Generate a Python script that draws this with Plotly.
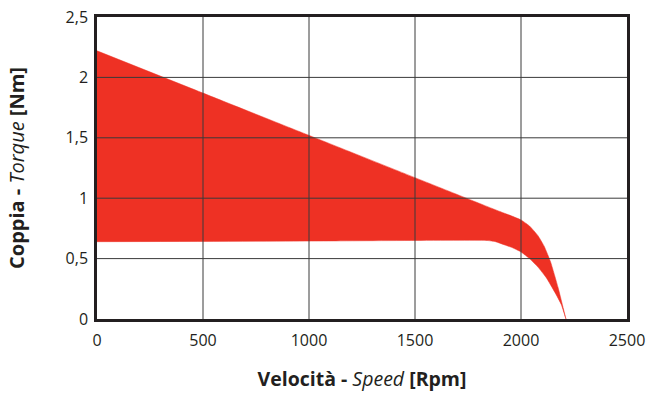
import plotly.graph_objects as go

# Upper boundary of the operating region
upper_speed = [0, 500, 1000, 1500, 1900, 1960, 2000, 2040, 2080, 2110, 2140, 2175, 2212]
upper_torque = [2.22, 1.87, 1.52, 1.17, 0.89, 0.85, 0.82, 0.77, 0.69, 0.60, 0.47, 0.26, 0.0]

# Lower boundary of the operating region
lower_speed = [0, 1000, 1840, 1880, 1920, 1960, 2000, 2040, 2080, 2120, 2160, 2190, 2212]
lower_torque = [0.64, 0.645, 0.65, 0.64, 0.615, 0.59, 0.555, 0.50, 0.43, 0.34, 0.22, 0.12, 0.0]

x_ticks = [0, 500, 1000, 1500, 2000, 2500]
x_labels = ["0", "500", "1000", "1500", "2000", "2500"]
y_ticks = [0, 0.5, 1, 1.5, 2, 2.5]
y_labels = ["0", "0,5", "1", "1,5", "2", "2,5"]

poly_x = upper_speed + lower_speed[::-1]
poly_y = upper_torque + lower_torque[::-1]

fig = go.Figure()
fig.add_trace(go.Scatter(
    x=poly_x, y=poly_y, mode="lines", fill="toself",
    fillcolor="#EE3124", line=dict(color="#EE3124", width=0.5, shape="spline", smoothing=0.4),
    hoverinfo="skip", showlegend=False,
))

grid_color = "#3a3a3a"
shapes = []
for v in x_ticks[1:-1]:
    shapes.append(dict(type="line", xref="x", yref="paper", x0=v, x1=v, y0=0, y1=1,
                       line=dict(color=grid_color, width=1), layer="above"))
for v in y_ticks[1:-1]:
    shapes.append(dict(type="line", xref="paper", yref="y", x0=0, x1=1, y0=v, y1=v,
                       line=dict(color=grid_color, width=1), layer="above"))

font_family = "Open Sans, Noto Sans, sans-serif"
fig.update_layout(
    width=649, height=394,
    margin=dict(l=97, r=22, t=17, b=75),
    paper_bgcolor="white", plot_bgcolor="white",
    font=dict(family=font_family, color="#231F20", size=16),
    shapes=shapes,
    xaxis=dict(
        range=[0, 2500], tickvals=x_ticks, ticktext=x_labels,
        showgrid=False, zeroline=False, automargin=False,
        showline=True, linecolor="#231F20", linewidth=2.5, mirror=True,
        ticks="", ticklabelstandoff=5,
        tickfont=dict(size=16),
        title=dict(text="<b>Velocità - </b><i>Speed</i><b> [Rpm]</b>",
                   font=dict(size=19.5), standoff=23),
    ),
    yaxis=dict(
        range=[0, 2.5], tickvals=y_ticks, ticktext=y_labels,
        showgrid=False, zeroline=False, automargin=False,
        showline=True, linecolor="#231F20", linewidth=2.5, mirror=True,
        ticks="", ticklabelstandoff=3,
        tickfont=dict(size=16),
        title=dict(text="<b>Coppia - </b><i>Torque</i><b> [Nm]</b>",
                   font=dict(size=20), standoff=36),
    ),
)

fig.write_html("out.html", config={"displayModeBar": False},
               post_script="document.body.style.margin='0';")
